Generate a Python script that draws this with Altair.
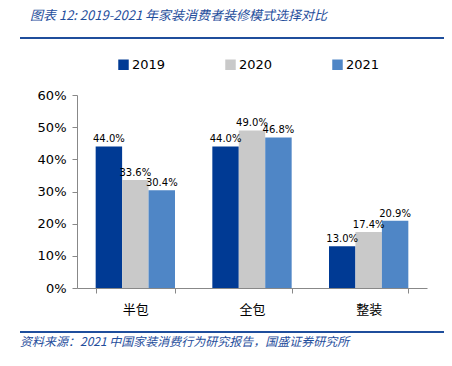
import altair as alt
import pandas as pd

categories = ["半包", "全包", "整装"]
years = ["2019", "2020", "2021"]
v2019 = [44.0, 44.0, 13.0]
v2020 = [33.6, 49.0, 17.4]
v2021 = [30.4, 46.8, 20.9]
colors = ["#003a94", "#c9c9c9", "#4f86c6"]
yticks = [0, 0.1, 0.2, 0.3, 0.4, 0.5, 0.6]

rows = []
for i, c in enumerate(categories):
    for y, vals in zip(years, [v2019, v2020, v2021]):
        rows.append({"cat": c, "year": y, "val": vals[i] / 100.0, "label": f"{vals[i]:.1f}%"})
df = pd.DataFrame(rows)

FONT = "Noto Sans CJK SC"
W, H = 350, 193

x = alt.X("cat:N", sort=categories, title=None,
          scale=alt.Scale(paddingInner=0.32, paddingOuter=0.16),
          axis=alt.Axis(labelAngle=0, labelFont=FONT, labelFontSize=13, labelColor="#000",
                        labelPadding=10, tickBand="extent", tickColor="#888", domainColor="#888",
                        tickSize=5))
xo = alt.XOffset("year:N", sort=years)
yenc = alt.Y("val:Q", title=None,
             scale=alt.Scale(domain=[0, 0.6]),
             axis=alt.Axis(format=".0%", values=yticks, grid=False, labelOverlap=False,
                           labelFont="DejaVu Sans", labelFontSize=13, labelColor="#000",
                           tickColor="#888", domainColor="#888", tickSize=5, labelPadding=6))

bars = alt.Chart(df).mark_bar().encode(
    x=x, xOffset=xo, y=yenc,
    color=alt.Color("year:N", sort=years, scale=alt.Scale(domain=years, range=colors),
                    legend=alt.Legend(title=None, orient="none", legendX=40, legendY=-37,
                                      direction="horizontal", symbolType="square", symbolSize=110,
                                      labelFont="DejaVu Sans", labelFontSize=13, labelColor="#000",
                                      columnPadding=58, symbolStrokeWidth=0, labelOffset=2)),
)

labels = alt.Chart(df).mark_text(dy=-7, fontSize=10, font="DejaVu Sans", color="#000").encode(
    x=x, xOffset=xo, y=yenc, text="label:N")

title = alt.Chart(pd.DataFrame({"t": ["图表 12:  2019-2021 年家装消费者装修模式选择对比"]})).mark_text(
    align="left", baseline="middle", font=FONT, fontSize=13, fontStyle="italic",
    color="#1f4e9c").encode(x=alt.value(-47), y=alt.value(-79), text="t:N")

footer = alt.Chart(pd.DataFrame({"t": ["资料来源：2021 中国家装消费行为研究报告，国盛证券研究所"]})).mark_text(
    align="left", baseline="middle", font=FONT, fontSize=12, fontStyle="italic",
    color="#1f4e9c").encode(x=alt.value(-57), y=alt.value(247), text="t:N")

line1 = alt.Chart(pd.DataFrame({"a": [0]})).mark_rule(color="#1f4e9c", strokeWidth=2).encode(
    x=alt.value(-57), x2=alt.value(368), y=alt.value(-57))
line2 = alt.Chart(pd.DataFrame({"a": [0]})).mark_rule(color="#1f4e9c", strokeWidth=2).encode(
    x=alt.value(-57), x2=alt.value(368), y=alt.value(237))

chart = alt.layer(bars, labels, title, footer, line1, line2).properties(
    width=W, height=H,
    autosize=alt.AutoSizeParams(type="none"),
    padding={"left": 69, "top": 87, "right": 17, "bottom": 70},
).configure_view(stroke=None)

chart.save("out.html", embed_options={"renderer": "svg", "actions": False})
